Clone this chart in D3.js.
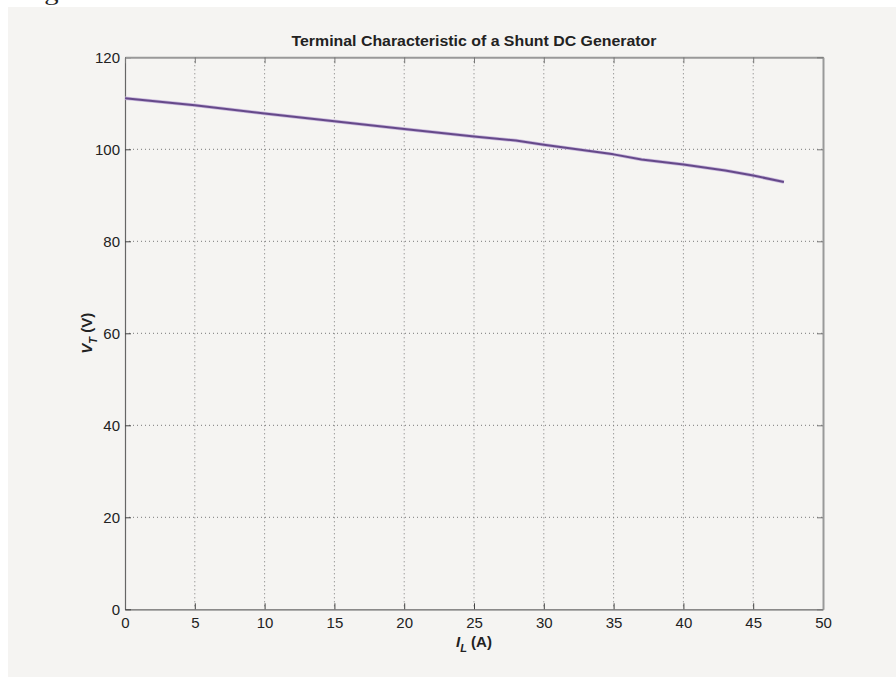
<!DOCTYPE html>
<html><head><meta charset="utf-8">
<script src="https://cdn.jsdelivr.net/npm/d3@7"></script>
<style>body{margin:0;background:#fff;}svg{display:block;}</style>
</head><body>
<script>
const currentA = [0, 5, 10, 15, 20, 25, 28, 30, 35, 37, 40, 43, 45, 47.2];
const voltageV = [111.1, 109.6, 107.8, 106.1, 104.4, 102.8, 101.9, 101.0, 98.9, 97.8, 96.7, 95.4, 94.3, 92.9];
const xTicks = [0, 5, 10, 15, 20, 25, 30, 35, 40, 45, 50];
const yTicks = [0, 20, 40, 60, 80, 100, 120];
const titleText = "Terminal Characteristic of a Shunt DC Generator";

const W = 896, H = 677;
const svg = d3.select("body").append("svg").attr("width", W).attr("height", H);
svg.append("text").attr("x", 22).attr("y", 0).attr("font-family", "'Liberation Serif', 'Times New Roman', serif").attr("font-size", 22)
  .attr("textLength", 464).attr("lengthAdjust", "spacingAndGlyphs")
  .attr("fill", "#222").text("ing terminal characteristic shown below.");
svg.append("rect").attr("x", 8).attr("y", 7).attr("width", W - 8).attr("height", H - 7).attr("fill", "#f5f4f2");

const L = 125, R = 823, T = 57.3, B = 609.3;
const x = d3.scaleLinear().domain([0, 50]).range([L, R]);
const y = d3.scaleLinear().domain([0, 120]).range([B, T]);
const font = "Arial, 'Liberation Sans', Helvetica, sans-serif";

// grid
const g = svg.append("g");
g.selectAll(".gx").data(xTicks.slice(1, -1)).enter().append("line")
  .attr("x1", d => x(d)).attr("x2", d => x(d)).attr("y1", T).attr("y2", B)
  .attr("stroke", "#777").attr("stroke-width", 1).attr("stroke-dasharray", "1,3");
g.selectAll(".gy").data(yTicks.slice(1, -1)).enter().append("line")
  .attr("x1", L).attr("x2", R).attr("y1", d => y(d)).attr("y2", d => y(d))
  .attr("stroke", "#777").attr("stroke-width", 1).attr("stroke-dasharray", "1,3");

// axes
const xAxis = d3.axisBottom(x).tickValues(xTicks).tickSizeInner(-6).tickSizeOuter(0).tickPadding(8);
const yAxis = d3.axisLeft(y).tickValues(yTicks).tickSizeInner(-6).tickSizeOuter(0).tickPadding(11);
const gx = svg.append("g").attr("transform", `translate(0,${B})`).call(xAxis);
const gy = svg.append("g").attr("transform", `translate(${L},0)`).call(yAxis);
[gx, gy].forEach(a => {
  a.attr("font-family", null).attr("font-size", null);
  a.select(".domain").attr("stroke", "#666").attr("stroke-width", 1.2);
  a.selectAll(".tick line").attr("stroke", "#444");
  a.selectAll(".tick text").style("font-family", font).style("font-size", "15px").attr("fill", "#222");
});
gy.selectAll(".tick text").attr("dx", "6");
// top/right box with ticks
const xAxisTop = d3.axisTop(x).tickValues(xTicks).tickSizeInner(-6).tickSizeOuter(0).tickFormat("");
const yAxisRight = d3.axisRight(y).tickValues(yTicks).tickSizeInner(-6).tickSizeOuter(0).tickFormat("");
const gt = svg.append("g").attr("transform", `translate(0,${T})`).call(xAxisTop);
const gr = svg.append("g").attr("transform", `translate(${R},0)`).call(yAxisRight);
[gt, gr].forEach(a => {
  a.select(".domain").attr("stroke", "#999").attr("stroke-width", 2);
  a.selectAll(".tick line").attr("stroke", "#777");
});

// line
const line = d3.line().x((d, i) => x(currentA[i])).y(d => y(d));
svg.append("path").datum(voltageV).attr("d", line).attr("fill", "none")
  .attr("stroke", "#c9b8dc").attr("stroke-width", 3.5).attr("stroke-linejoin", "round");
svg.append("path").datum(voltageV).attr("d", line).attr("fill", "none")
  .attr("stroke", "#65498a").attr("stroke-width", 2).attr("stroke-linejoin", "round");

// title
svg.append("text").attr("x", (L + R) / 2).attr("y", 46).attr("text-anchor", "middle")
  .style("font-family", font).style("font-size", "14px").attr("font-weight", "bold").attr("fill", "#222")
  .attr("textLength", 365).attr("lengthAdjust", "spacingAndGlyphs").text(titleText);

// x label
const xl = svg.append("text").attr("x", (L + R) / 2).attr("y", 647).attr("text-anchor", "middle")
  .style("font-family", font).style("font-size", "15px").attr("font-weight", "bold").attr("fill", "#222");
xl.append("tspan").attr("font-style", "italic").text("I");
xl.append("tspan").attr("font-style", "italic").style("font-size", "11px").attr("dy", 5).text("L");
xl.append("tspan").attr("dy", -5).text(" (A)");

// y label
const yl = svg.append("text").attr("transform", `translate(92,${(T + B) / 2}) rotate(-90)`).attr("text-anchor", "middle")
  .style("font-family", font).style("font-size", "15px").attr("font-weight", "bold").attr("fill", "#222");
yl.append("tspan").attr("font-style", "italic").text("V");
yl.append("tspan").attr("font-style", "italic").style("font-size", "11px").attr("dy", 5).text("T");
yl.append("tspan").attr("dy", -5).text(" (V)");
</script>
</body></html>
